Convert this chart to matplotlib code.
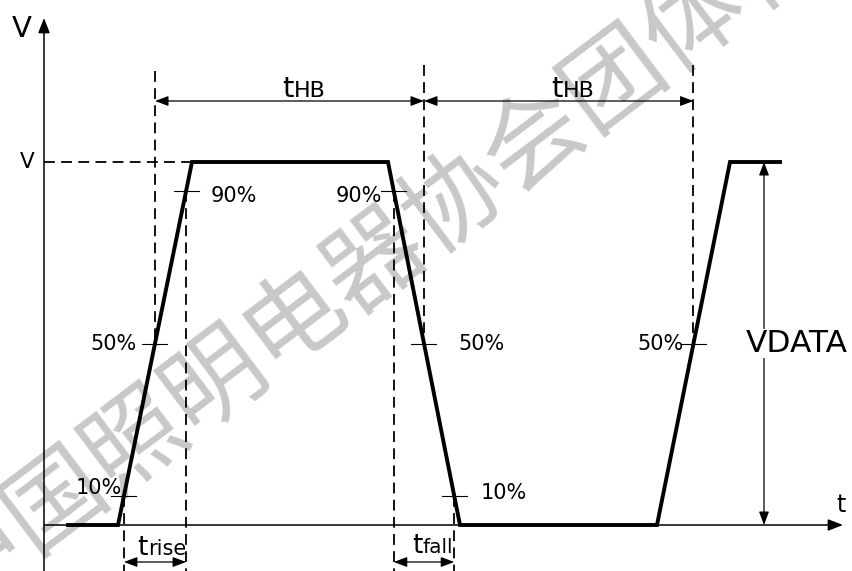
import matplotlib.pyplot as plt

plt.rcParams['font.family'] = ['DejaVu Sans']

# waveform corners: time (diagram units) and level as a fraction of V
t_wave = [68, 118, 192, 388, 460, 657, 730, 780]
v_wave = [0, 0, 1, 1, 0, 0, 1, 1]

# threshold levels marked on each edge
levels = [0.08, 0.5, 0.92]
level_names = ['10%', '50%', '90%']

watermark = '中国照明电器协会团体标准'

# layout helpers: picture is 853x571 px, baseline at 525 px, V at 162 px
PX_PER_V = 363.0
BASE = 525.0


def vy(ypix):
    return (BASE - ypix) / PX_PER_V


def cross(edge, lev):
    i0, i1 = edge
    t0, t1 = t_wave[i0], t_wave[i1]
    v0, v1 = v_wave[i0], v_wave[i1]
    return t0 + (lev - v0) / (v1 - v0) * (t1 - t0)


rise1 = (1, 2)
fall1 = (3, 4)
rise2 = (5, 6)

fig = plt.figure(figsize=(8.53, 5.71), dpi=100)
ax = fig.add_axes([0, 0, 1, 1])
ax.set_xlim(0, 853)
ax.set_ylim(vy(571), vy(0))
ax.axis('off')

# watermark
ax.text(415, vy(228), watermark, family=['Noto Sans CJK SC', 'DejaVu Sans'],
        fontsize=72, color='#c8c8c8', rotation=37, rotation_mode='anchor',
        ha='center', va='center', zorder=0)

# axes arrows
ax_x0 = 44
ax.annotate('', xy=(ax_x0, vy(18)), xytext=(ax_x0, vy(571)),
            arrowprops=dict(arrowstyle='-|>,head_length=0.9,head_width=0.35',
                            mutation_scale=10, lw=1.1, color='k',
                            shrinkA=0, shrinkB=0), zorder=3)
ax.annotate('', xy=(843, 0), xytext=(ax_x0, 0),
            arrowprops=dict(arrowstyle='-|>,head_length=0.9,head_width=0.35',
                            mutation_scale=10, lw=1.1, color='k',
                            shrinkA=0, shrinkB=0), zorder=3)
ax.text(22, vy(37), 'V', fontsize=21, ha='center', va='baseline')
ax.text(841, vy(512), 't', fontsize=17, ha='center', va='baseline')

# V level
ax.text(27, vy(168), 'V', fontsize=15.5, ha='center', va='baseline')
dash = (0, (6, 3.5))
ax.plot([ax_x0, t_wave[2]], [1, 1], color='k', lw=1.3, linestyle=dash, zorder=2)

# waveform
ax.plot(t_wave, v_wave, color='k', lw=2.8, solid_joinstyle='miter', zorder=4)

# threshold ticks
tick_half = 12.5
for edge in (rise1, fall1):
    for lev in levels:
        x = cross(edge, lev)
        ax.plot([x - tick_half, x + tick_half], [lev, lev], color='k', lw=0.8, zorder=3)
x = cross(rise2, levels[1])
ax.plot([x - tick_half, x + tick_half], [levels[1], levels[1]], color='k', lw=0.8, zorder=3)

# threshold labels: (edge, level index, dx from crossing, ha, baseline px)
label_specs = [
    (rise1, 0, -2, 'right', 494),
    (rise1, 1, -18, 'right', 350),
    (rise1, 2, 25, 'left', 202),
    (fall1, 2, -12, 'right', 202),
    (fall1, 1, 34, 'left', 350),
    (fall1, 0, 26, 'left', 499),
    (rise2, 1, -10, 'right', 350),
]
for edge, li, dx, ha, base in label_specs:
    x = cross(edge, levels[li])
    ax.text(x + dx, vy(base), level_names[li], fontsize=15, ha=ha, va='baseline', zorder=5)

# dashed guide lines
top_pix = [71, 65, 65]
bottom_v = vy(571)
for edge, tp in zip((rise1, fall1, rise2), top_pix):
    x = cross(edge, levels[1])
    ax.plot([x, x], [vy(tp), levels[1]], color='k', lw=1.3, linestyle=dash, zorder=2)
for edge in (rise1, fall1):
    for lev in (levels[0], levels[2]):
        x = cross(edge, lev)
        ax.plot([x, x], [lev, bottom_v], color='k', lw=1.3, linestyle=dash, zorder=2)

arrow_kw = dict(arrowstyle='<|-|>,head_length=0.8,head_width=0.3',
                mutation_scale=10, lw=0.9, color='k', shrinkA=0, shrinkB=0)

# tHB spans
thb_y = vy(101)
m1 = cross(rise1, levels[1])
m2 = cross(fall1, levels[1])
m3 = cross(rise2, levels[1])
for a, b in ((m1, m2), (m2, m3)):
    ax.annotate('', xy=(b, thb_y), xytext=(a, thb_y), arrowprops=arrow_kw, zorder=3)
    j = (a + b) / 2 + 4
    ax.text(j, vy(97), 't', fontsize=21, ha='right', va='baseline')
    ax.text(j, vy(97), 'HB', fontsize=16, ha='left', va='baseline')

# rise / fall times
tr_y = vy(562)
r10 = cross(rise1, levels[0])
r90 = cross(rise1, levels[2])
f90 = cross(fall1, levels[2])
f10 = cross(fall1, levels[0])
ax.annotate('', xy=(r90, tr_y), xytext=(r10, tr_y), arrowprops=arrow_kw, zorder=3)
ax.annotate('', xy=(f10, tr_y), xytext=(f90, tr_y), arrowprops=arrow_kw, zorder=3)
ax.text(148, vy(555), 't', fontsize=19, ha='right', va='baseline')
ax.text(148, vy(555), 'rise', fontsize=15, ha='left', va='baseline')
ax.text(423, vy(553), 't', fontsize=19, ha='right', va='baseline')
ax.text(423, vy(553), 'fall', fontsize=14.5, ha='left', va='baseline')

# VDATA span
vx = 764
ax.annotate('', xy=(vx, 1), xytext=(vx, 0), arrowprops=arrow_kw, zorder=3)
ax.text(797, vy(352), 'VDATA', fontsize=22.5, ha='center', va='baseline', zorder=5,
        bbox=dict(facecolor='white', edgecolor='none', pad=0))

fig.savefig('out.png', dpi=100)
